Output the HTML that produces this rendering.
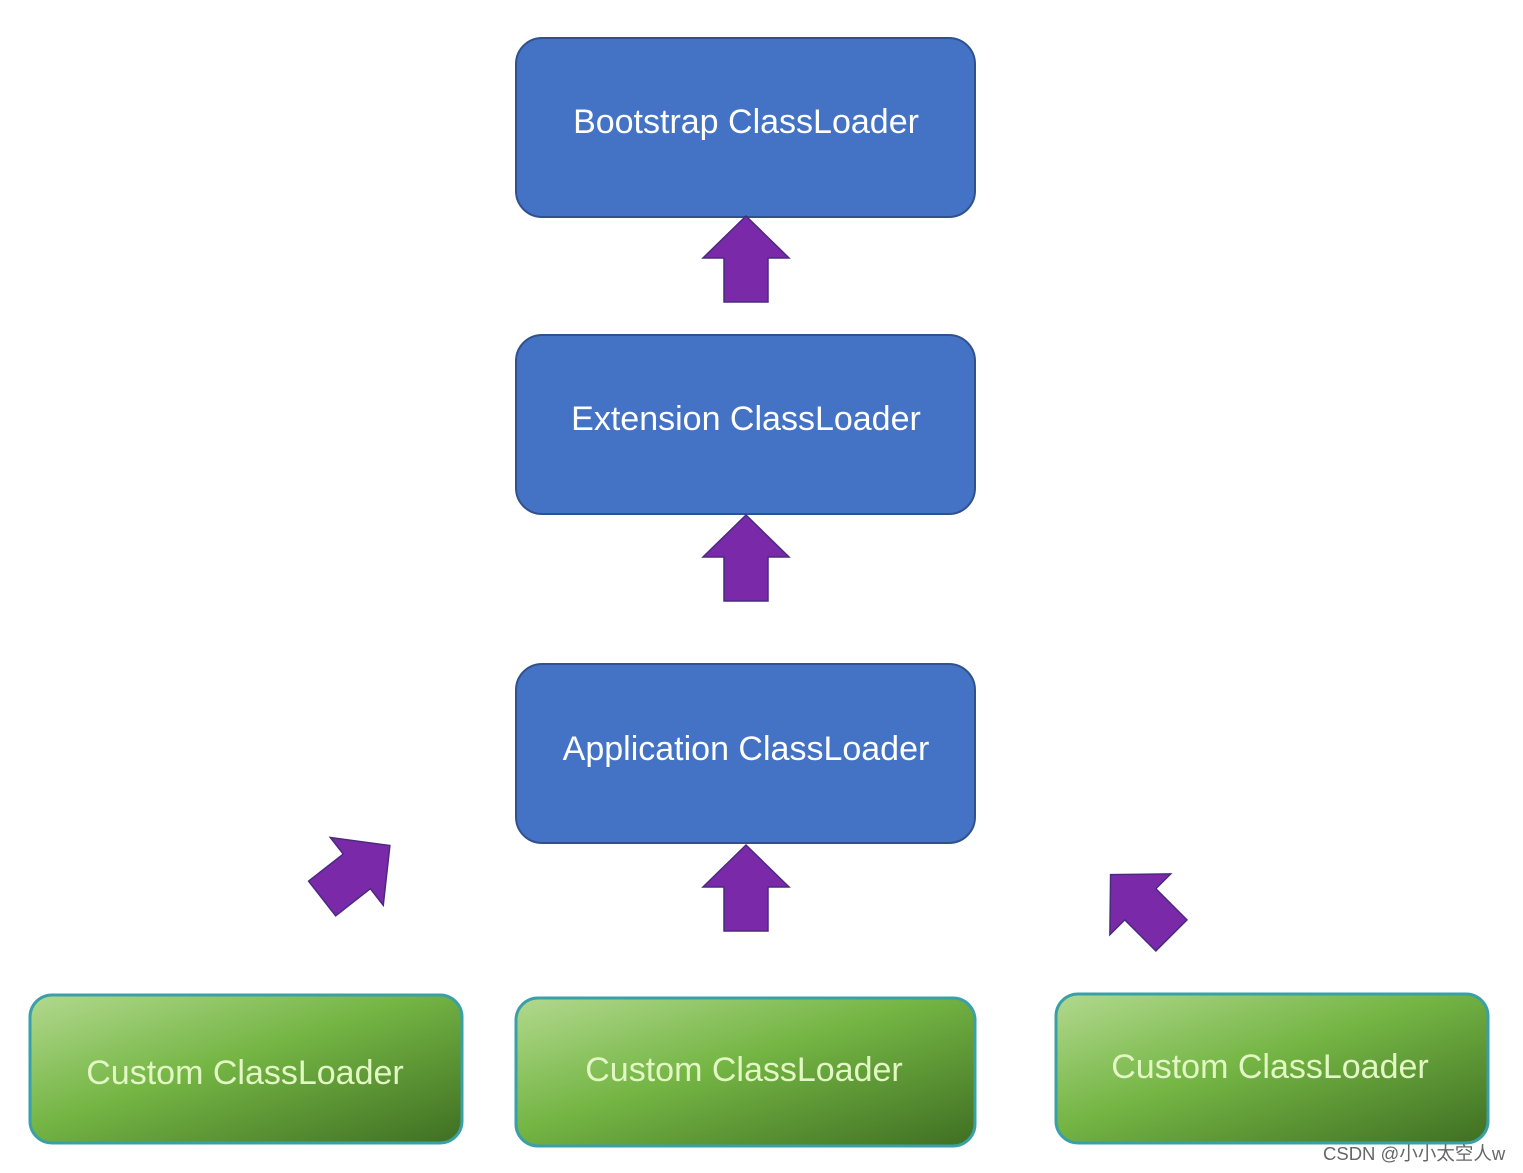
<!DOCTYPE html>
<html><head><meta charset="utf-8"><style>
html,body{margin:0;padding:0;background:#fff;}
svg{display:block}
</style></head><body>
<svg width="1523" height="1173" viewBox="0 0 1523 1173" xmlns="http://www.w3.org/2000/svg">
<defs>
<linearGradient id="g" x1="0" y1="0" x2="1" y2="1">
<stop offset="0" stop-color="#b2d98e"/>
<stop offset="0.45" stop-color="#74b544"/>
<stop offset="1" stop-color="#3f6f22"/>
</linearGradient>
<path id="ar" d="M0,-43 L43,-1 L22,-1 L22,43 L-22,43 L-22,-1 L-43,-1 Z" fill="#7a2aa8" stroke="#4a2a80" stroke-width="1.5"/>
</defs>
<g font-family="Liberation Sans, sans-serif" font-size="34" text-anchor="middle">
<rect x="516" y="38" width="459" height="179" rx="26" fill="#4472c4" stroke="#2f528f" stroke-width="2"/>
<text x="746" y="133" fill="#fff">Bootstrap ClassLoader</text>
<rect x="516" y="335" width="459" height="179" rx="26" fill="#4472c4" stroke="#2f528f" stroke-width="2"/>
<text x="746" y="430" fill="#fff">Extension ClassLoader</text>
<rect x="516" y="664" width="459" height="179" rx="26" fill="#4472c4" stroke="#2f528f" stroke-width="2"/>
<text x="746" y="760" fill="#fff">Application ClassLoader</text>

<use href="#ar" transform="translate(746,259)"/>
<use href="#ar" transform="translate(746,558)"/>
<use href="#ar" transform="translate(746,888)"/>
<use href="#ar" transform="translate(356,872) rotate(52)"/>
<use href="#ar" transform="translate(1141,905) rotate(-45)"/>

<rect x="30" y="995" width="432" height="148" rx="22" fill="url(#g)" stroke="#3aa0a8" stroke-width="3"/>
<text x="245" y="1084" fill="#e2f7c4">Custom ClassLoader</text>
<rect x="516" y="998" width="459" height="148" rx="22" fill="url(#g)" stroke="#3aa0a8" stroke-width="3"/>
<text x="744" y="1081" fill="#e2f7c4">Custom ClassLoader</text>
<rect x="1056" y="994" width="432" height="149" rx="22" fill="url(#g)" stroke="#3aa0a8" stroke-width="3"/>
<text x="1270" y="1078" fill="#e2f7c4">Custom ClassLoader</text>
</g>
<text x="1323" y="1160" font-family="Liberation Sans, 'Noto Sans CJK SC', sans-serif" font-size="18.5" fill="#666">CSDN @小小太空人w</text>
</svg>
</body></html>
